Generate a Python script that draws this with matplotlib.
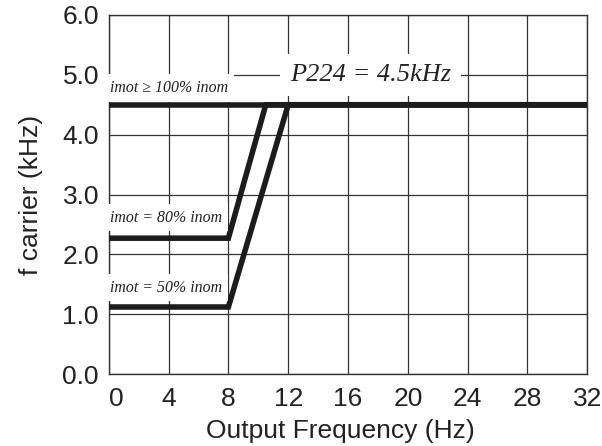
import matplotlib
matplotlib.use("Agg")
import matplotlib.pyplot as plt

# Data
x_ticks = [0, 4, 8, 12, 16, 20, 24, 28, 32]
y_ticks = [0.0, 1.0, 2.0, 3.0, 4.0, 5.0, 6.0]

line100_x = [0, 32]
line100_y = [4.5, 4.5]
line80_x = [0, 8, 10.5, 32]
line80_y = [2.27, 2.27, 4.5, 4.5]
line50_x = [0, 8, 12, 32]
line50_y = [1.12, 1.12, 4.5, 4.5]

labels = ["imot \u2265 100% inom", "imot = 80% inom", "imot = 50% inom"]
label_y = [4.78, 2.61, 1.44]
p224_text = "P224 = 4.5kHz"

fig = plt.figure(figsize=(6.02, 4.46), dpi=100)
ax = fig.add_axes([0.1806, 0.1614, 0.795, 0.805])

ink = "#1c1c1c"
for xs, ys in [(line100_x, line100_y), (line80_x, line80_y), (line50_x, line50_y)]:
    ax.plot(xs, ys, color=ink, lw=4.0, solid_joinstyle="miter",
            solid_capstyle="butt", zorder=3)

ax.set_xlim(0, 32)
ax.set_ylim(0, 6)
ax.set_xticks(x_ticks)
ax.set_yticks(y_ticks)
ax.set_xticklabels([str(v) for v in x_ticks])
ax.set_yticklabels([f"{v:.1f}" for v in y_ticks])
ax.grid(True, color="#333333", lw=0.9)
ax.set_axisbelow(True)
for s in ax.spines.values():
    s.set_color("#333333")
    s.set_linewidth(1.0)

sans = ["Liberation Sans", "DejaVu Sans"]
ax.tick_params(length=0, labelsize=19, labelcolor="#222222")
ax.tick_params(axis="x", pad=9)
ax.tick_params(axis="y", pad=7)
for lab in ax.get_xticklabels() + ax.get_yticklabels():
    lab.set_family(sans)
ax.get_xticklabels()[0].set_ha("left")
ax.set_xlabel("Output Frequency (Hz)", fontsize=19, family=sans, color="#222222", labelpad=6)
ax.xaxis.label.set_x(0.483)
ax.set_ylabel("f carrier (kHz)", fontsize=19, family=sans, color="#222222", labelpad=14)

serif = ["Liberation Serif", "DejaVu Serif"]
for t, yv in zip(labels, label_y):
    ax.text(0.1, yv, t, fontsize=11.4, style="italic", family=serif, color="#222222",
            ha="left", va="center", zorder=6, clip_on=False,
            bbox=dict(facecolor="white", edgecolor="none", pad=4))

ax.text(17.5, 5.0, p224_text, fontsize=19, style="italic", family=serif, color="#222222",
        ha="center", va="center", zorder=6,
        bbox=dict(facecolor="white", edgecolor="none", pad=7))

fig.savefig("out.png", dpi=100)
